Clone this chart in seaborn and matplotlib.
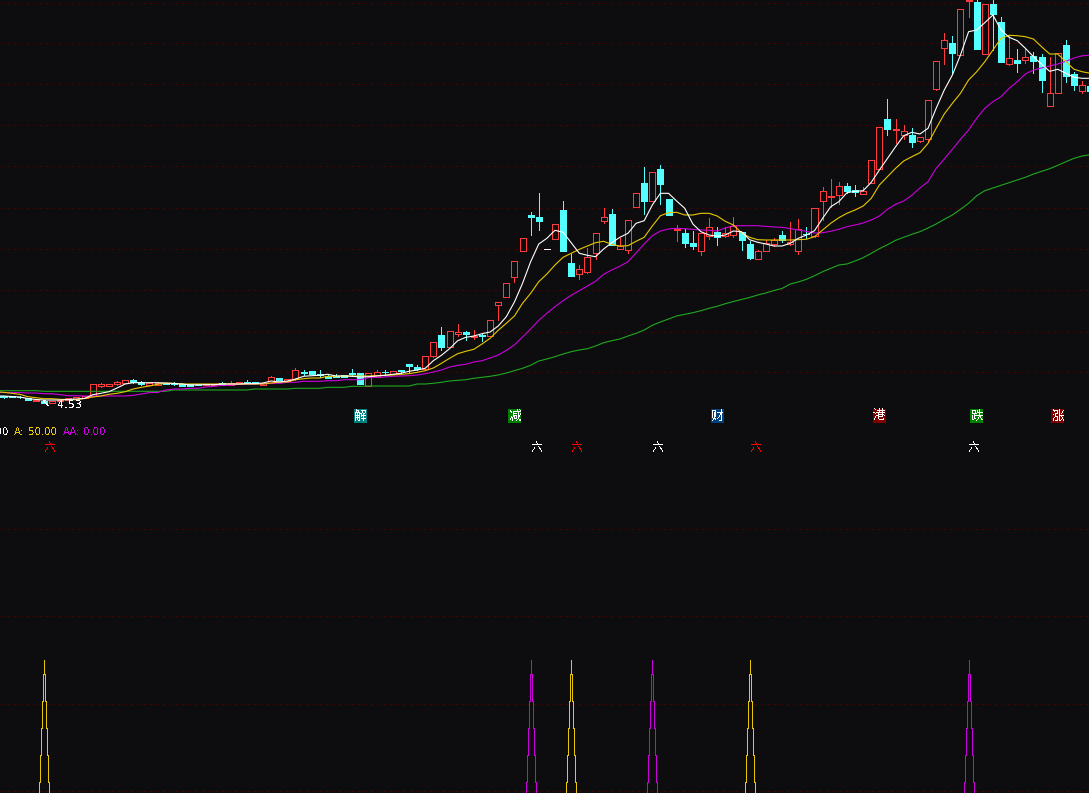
import pandas as pd
import matplotlib
matplotlib.use("Agg")
import matplotlib.pyplot as plt
import seaborn as sns

# every price below in screen rows, so the price axis runs downwards
opens = [396, 396, 396.5, 398, 401, 400.5, 403, 401, 399.5, 399,
         398, 396, 386, 385.7, 384, 382.7, 380, 382, 384.7, 384.7,
         383, 383, 384, 383.7, 384.7, 385.3, 385.3, 383, 384.7, 384,
         382, 382, 384.7, 382.7, 377.7, 381.3, 379.3, 372, 371.3, 374.3,
         376, 375.5, 375.3, 373, 373, 385.7, 376.7, 371.7, 374, 370.3,
         364.3, 367, 368.7, 355.7, 335, 346.7, 333.7, 332, 337.3, 335,
         335.7, 305.3, 296.7, 276.7, 251.3, 215, 217, 249.3, 238.7, 210,
         263, 273.7, 271.7, 253.3, 220.7, 214, 249.3, 249.7, 207.3, 183,
         200.7, 169, 199.3, 230, 233, 243, 251.3, 236, 232.3, 236,
         234.7, 232.3, 244, 258.7, 251.3, 243.7, 235, 244.3, 250.7, 233.7,
         236.3, 201.3, 196.7, 194.7, 186, 190.3, 194.3, 182.7, 168.7, 119,
         130.3, 135.3, 135, 140.7, 139.3, 88.7, 47.7, 43, 54.7, 1,
         2, 53.7, 4, 22.3, 63.7, 60, 59.7, 56, 57, 105.7,
         92.7, 45, 74, 90.7, 86]
closes = [397, 396.5, 397, 400, 399.5, 403, 401, 400, 398, 397,
          396, 384.3, 384, 384.3, 382, 380.3, 382.3, 383.7, 382.7, 383,
          384, 384, 385.7, 385.7, 385.3, 383.7, 383.7, 384.7, 382.7, 382,
          383.3, 383, 383, 377, 380, 379.3, 370.3, 373, 374.3, 375.3,
          377.7, 376.7, 377, 373.5, 384, 373.3, 372.3, 372.3, 371.3, 371.3,
          366, 368.7, 356.3, 342.3, 346.7, 331.3, 332.3, 333.7, 336, 336,
          320.3, 302.3, 283.3, 261.3, 238.3, 216.7, 220.7, 249.3, 224.3, 250.7,
          275.7, 269.3, 257.3, 233.3, 217.3, 244.7, 246, 220.3, 193.3, 200.7,
          172.3, 183.7, 214.7, 229, 242.7, 246, 233.3, 227.3, 236.7, 233.3,
          226, 240, 258, 251.3, 243.3, 240.3, 240, 241.7, 228.7, 234.3,
          208.3, 191.3, 195.7, 186.3, 190.7, 191.7, 191.3, 160.3, 127.3, 129,
          129.3, 131.3, 142, 137.3, 100.3, 61.3, 40.3, 53, 9.3, 0,
          49, 4.3, 14, 62, 58.3, 63, 57.3, 61, 80, 93.3,
          53.3, 76, 85, 85.3, 90.7]
highs = [395.5, 395.5, 396, 398, 399.5, 400.5, 401, 400, 398, 397,
         396, 384.3, 382.7, 384.3, 381, 380.3, 379, 380.5, 382.7, 383,
         383, 382, 383, 383.7, 384.7, 383.7, 383.7, 382, 381, 382,
         380, 382, 383, 376, 377.7, 379.3, 368, 370, 371.3, 370.3,
         375, 374, 375.3, 369, 373, 373.3, 370, 370, 371.3, 370.3,
         364.3, 365, 356.3, 342.3, 327.3, 331.3, 324, 331.3, 330.3, 334.3,
         320.3, 302.3, 283.3, 261.3, 238.3, 212, 193, 249.3, 224.3, 201,
         254, 265.3, 248, 233.3, 208, 209.3, 238.3, 220.3, 193.3, 167.3,
         172.3, 165, 199.3, 225.3, 229.3, 231, 233.3, 218.3, 227.3, 226.7,
         217.3, 232.3, 241.3, 250, 240, 238.3, 231, 222.3, 219.3, 227.3,
         208.3, 187.3, 179.3, 182, 183.3, 185, 186.7, 160.3, 127.3, 99,
         119.3, 125.3, 128.3, 137.3, 100.3, 61.3, 33, 36, 9.3, -3,
         0, 4.3, 0, 17.3, 36, 49.3, 48.7, 52, 54.3, 57,
         53.3, 40, 72, 81.3, 86]
lows = [398, 397, 397.5, 400, 401, 403, 403, 401, 399.5, 399,
        398, 396, 386.7, 385.7, 384.5, 382.7, 382.7, 384.7, 384.7, 384.7,
        384, 385, 386, 385.7, 385.3, 385.3, 385.3, 384.7, 384.7, 384,
        383.3, 383, 384.7, 382.7, 380, 381.3, 380, 374.5, 374.3, 376.7,
        377.7, 376.7, 377, 376, 384, 385.7, 377.3, 374, 374, 373.3,
        371.7, 370, 369.3, 357, 350, 346.7, 336, 340, 338.7, 341,
        335.7, 320, 296.7, 282, 251.3, 235, 230, 249.3, 238.7, 250.7,
        275.7, 278.7, 272.7, 259.3, 222.7, 244.7, 249.3, 252.7, 207.3, 214,
        200.7, 204, 214.7, 240.7, 246.7, 248.7, 254.7, 239.3, 244.7, 236.7,
        236.7, 250, 258.7, 258.7, 251.3, 246, 241.7, 245, 253.7, 238.3,
        237, 220, 206.7, 204, 192.7, 196, 194.3, 182.7, 168.7, 135,
        143.3, 138.7, 146.7, 141.7, 141.7, 90, 64, 73.3, 54.7, 16.7,
        49, 53.7, 50, 62, 65, 72, 62.7, 73.3, 92, 105.7,
        92.7, 82, 90, 93, 90.7]

# the averages start one bar further left, that bar is off the window
ma_white = [396, 396, 396.5, 397, 398.5, 399.5, 400, 400, 400, 399.5, 399,
            398.5, 394.7, 393.3, 391.7, 388, 384, 382.7, 382.7, 382.7, 382.7,
            383, 383.5, 384, 385, 384.7, 384.7, 384.7, 384, 384, 384,
            383.7, 383.7, 383, 381, 382, 381, 379, 376.3, 375.7, 375.3,
            374.3, 376, 376, 376.3, 377, 376.7, 376, 375.3, 374.3, 373.3,
            371.3, 370, 368.3, 360.7, 355.3, 348.7, 340.7, 337.3, 336, 333.7,
            332, 326, 316.7, 302, 283.3, 261.7, 244, 238.3, 230.3, 232.3,
            242.7, 253.3, 255.3, 256.7, 249, 242.7, 237.3, 233.3, 223.3, 220.7,
            205, 193.3, 193.3, 201, 208.3, 224, 231.7, 235, 236.3, 235,
            231, 231.7, 239.7, 242.3, 244, 246, 246, 243.3, 238.3, 235,
            230.7, 218.3, 206.7, 201.7, 192.7, 191.3, 190.7, 182.3, 170, 158.3,
            146.7, 135.7, 132.3, 134, 128.3, 108.3, 90, 75, 55, 31.7,
            30, 22.7, 15, 30, 37.3, 40.7, 48.3, 56.7, 64.3, 71.3,
            69.3, 73.3, 77.3, 78.3, 78.3]
ma_yellow = [391.7, 392.3, 393.3, 394.3, 396.7, 397.7, 398.7, 398.7, 399.3, 399.7, 399.7,
             398.3, 397, 396, 394.3, 393.3, 391.7, 389, 387.3, 386, 384.3,
             383.3, 383.3, 384, 384, 384, 384, 384, 384, 384, 384,
             384, 384, 384, 383, 382, 382, 379.7, 378.7, 378, 378,
             376.3, 376.3, 376, 376, 376, 376, 375.7, 375.3, 375, 374.3,
             373.7, 372.3, 370.7, 368, 363.3, 358.3, 353.7, 351.3, 349.3, 344,
             338.3, 330.3, 323.3, 316, 303.3, 293.3, 281.7, 274, 265, 257.3,
             253.3, 249.3, 246, 242.7, 241.3, 244.3, 246, 245.7, 241.3, 237.3,
             226, 215.7, 212.7, 212.3, 215, 215, 213.3, 213.3, 216, 221.3,
             225, 232.7, 237.3, 239.7, 240, 240, 240, 240, 239.7, 239.3,
             236.7, 230, 223.3, 217.7, 213.3, 210, 206, 198.3, 185, 176.7,
             168.3, 161, 156.7, 152.7, 143.3, 128.3, 114, 103.3, 93.3, 80,
             71.7, 61.7, 50, 38.3, 35.3, 35.7, 36.7, 39, 46.7, 54,
             54, 61.7, 69.3, 71.7, 73.3]
ma_magenta = [392.5, 392.5, 392.5, 392.5, 393, 393, 393.7, 393.7, 394.7, 395.7, 395.7,
              396, 396, 396, 396, 396, 396, 395.3, 394, 392.5, 392.5,
              390, 389, 389, 388.3, 388.3, 387, 386.3, 385.3, 385.3, 384.3,
              384, 384, 384, 383.3, 383.3, 382.3, 382.3, 381.3, 381.3, 381.3,
              380.7, 380.7, 379.7, 379.7, 379.7, 377.7, 377.3, 377, 376.3, 376,
              375.7, 375, 373.7, 372, 370, 367, 365.3, 364.3, 362, 360.7,
              358, 355, 350.3, 345, 337, 329, 320.3, 313.3, 306.7, 300.7,
              295.3, 290.7, 286, 281.3, 274.3, 270, 266.3, 261.7, 253, 244,
              235.7, 231, 229, 228.3, 228.7, 229.3, 230, 230.3, 231, 228,
              225.7, 225.7, 225.7, 225.7, 226.3, 227, 227.3, 228.7, 230, 231.3,
              233, 232.7, 231.3, 229.3, 226.7, 225, 223, 220, 216, 209.3,
              204.3, 201, 195.3, 188, 181.7, 168.3, 159, 149.3, 139.3, 130,
              118.3, 108.3, 101.7, 96.7, 88.3, 81.7, 74, 70, 68, 66,
              64, 61.3, 58, 55.7, 55.3]
ma_green = [390.7, 390.7, 390.7, 390.7, 390.7, 390.7, 391.3, 391.3, 391.3, 391.3, 391.3,
            391.3, 391.3, 391.3, 391.3, 391.3, 391.3, 391.3, 391.3, 391.3, 391.3,
            391.3, 390, 390, 390, 390, 390, 390, 390, 390, 390,
            390, 389, 389, 389, 389, 389, 388.3, 388.3, 388.3, 388.3,
            387.3, 387.3, 387.3, 386.3, 386.3, 386, 386, 386, 386, 386,
            386, 384, 384, 383.3, 382.3, 381, 380.3, 379.7, 378.3, 377.3,
            376.3, 375, 373, 370.7, 368.3, 365.3, 361, 359, 356.7, 354,
            351.7, 350, 348.7, 346, 342.7, 340.7, 339, 336, 333.3, 330,
            325.3, 322, 319, 316, 314.3, 312.7, 310.7, 308.3, 306.3, 303.7,
            301.5, 299.5, 297.5, 295, 293, 290.5, 288.5, 284, 282, 279.3,
            275.7, 271.7, 268.3, 265, 264, 261, 257.7, 253.3, 248.7, 244.7,
            240.3, 237.3, 234.3, 231.7, 228, 224, 219.3, 215, 209.3, 203.3,
            195.7, 190.7, 188, 185.3, 182.7, 180, 177.3, 174, 171.3, 168.7,
            165.3, 161.7, 158.3, 156, 154.7]

price_grid = [3, 43, 84, 125, 166, 208, 249, 290, 332, 372]
signal_grid = [40, 80, 120, 160]

badge_idx = [44, 63, 88, 108, 120, 130]
badge_text = ["解", "减", "财", "港", "跌", "涨"]
badge_colors = ["#008080", "#007f00", "#00407f", "#800000", "#007f00", "#800000"]

spike_idx = [5, 65, 70, 80, 92, 119]
spike_colors = ["#e8c800", "#cc00dd", "#e8c800", "#cc00dd", "#e8c800", "#cc00dd"]
flag_colors = ["#ff0000", "#ffffff", "#ff0000", "#ffffff", "#ff0000", "#ffffff"]
# the stairs one spike is made of: signal level and distance from the peak in bars
spike_levels = [100, 93.6, 81.3, 69, 56.7, 44.3, 39.3]
spike_offsets = [0, 0.123, 0.247, 0.37, 0.493, 0.617, 0.617]

BG = "#0d0d10"
RED = "#ff3b3b"
CYAN = "#54ffff"
ONE_PX = 0.72
W, H = 1089, 793

sns.set_theme(style="dark", rc={"figure.facecolor": BG, "axes.facecolor": BG, "text.antialiased": False})
plt.rcParams["font.family"] = ["DejaVu Sans", "Noto Sans CJK SC"]

fig = plt.figure(figsize=(W / 100, H / 100), dpi=100)
ax = fig.add_axes([0, 1 - 424 / H, 1, 424 / H])
ax2 = fig.add_axes([0, 0, 1, 1 - 424 / H])

df = pd.DataFrame({"open": opens, "close": closes, "high": highs, "low": lows})
df["i"] = df.index
df["top"] = df[["open", "close"]].min(axis=1)
df["size"] = (df["open"] - df["close"]).abs()
up = df[df["close"] < df["open"]]
down = df[df["close"] > df["open"]]
flat = df[df["close"] == df["open"]]

ax.vlines(up["i"], up["high"], up["low"], color=RED, lw=ONE_PX, antialiased=False, zorder=2)
ax.vlines(down["i"], down["high"], down["low"], color=CYAN, lw=ONE_PX, antialiased=False, zorder=2)
ax.bar(up["i"], up["size"], bottom=up["top"], width=0.74, facecolor=BG, edgecolor=RED,
       linewidth=ONE_PX, antialiased=False, zorder=3)
ax.bar(down["i"], down["size"], bottom=down["top"], width=0.74, facecolor=CYAN, edgecolor=CYAN,
       linewidth=ONE_PX, antialiased=False, zorder=3)
ax.hlines(flat["open"], flat["i"] - 0.37, flat["i"] + 0.37, color="white", lw=ONE_PX, antialiased=False, zorder=3)

# aliased strokes come out two pixels wide on a slope, so the averages stay smoothed and thin
ma_x = list(range(-1, len(opens)))
for values, color in [(ma_green, "#1fa81f"), (ma_magenta, "#cc00dd"), (ma_yellow, "#e8c800"), (ma_white, "#ffffff")]:
    sns.lineplot(x=ma_x, y=values, color=color, ax=ax, zorder=4, estimator=None)
    ax.lines[-1].set_linewidth(0.8)

for i, txt, col in zip(badge_idx, badge_text, badge_colors):
    ax.text(i, 416, txt, color="white", fontsize=9.2, family=["Noto Sans CJK SC", "DejaVu Sans"],
            ha="center", va="center", zorder=6,
            bbox=dict(facecolor=col, edgecolor="none", boxstyle="square,pad=0.02"))

ax.set_xlim(-3.5 / 8.11, (W - 3.5) / 8.11)
ax.set_ylim(424, 0)
ax.set_yticks(price_grid)
ax.axhline(423.5, color="#600000", lw=ONE_PX, antialiased=False, zorder=1)

# lower panel, each side of a spike is its own stair line, snapped so it stays one pixel wide
for i, col, flag in zip(spike_idx, spike_colors, flag_colors):
    for side in (-1, 1):
        xs = [i + side * d for d in spike_offsets]
        sns.lineplot(x=xs, y=spike_levels, color=col, estimator=None, sort=False, ax=ax2, zorder=3,
                     drawstyle="steps-pre")
        ax2.lines[-1].set_linewidth(ONE_PX)
        ax2.lines[-1].set_antialiased(False)
        ax2.lines[-1].set_snap(True)
    ax2.text(i + 0.65, 197, "六", color=flag, fontsize=8.5, family=["Noto Sans CJK SC", "DejaVu Sans"],
             ha="center", va="center")

ax2.set_xlim(-3.5 / 8.11, (W - 3.5) / 8.11)
ax2.set_ylim(39.3, 207.8)
ax2.set_yticks(signal_grid)

for a in (ax, ax2):
    a.set_xticks([])
    a.set_xlabel("")
    a.set_ylabel("")
    a.tick_params(left=False, bottom=False, labelleft=False, labelbottom=False)
    a.grid(axis="y", color="#4a0000", linestyle=(0, (2.5, 4)), lw=ONE_PX)
    a.set_axisbelow(True)
    for s in a.spines.values():
        s.set_visible(False)


def label(x, y, txt, col, ha="left", size=7.4):
    fig.text(x / W, 1 - y / H, txt, color=col, fontsize=size, ha=ha, va="center")


label(9.5, 432, "100.00", "white", ha="right")
label(14, 432, "A:", "#e8c800")
label(28, 432, "50.00", "#e8c800")
label(63, 432, "AA:", "#cc00dd")
label(83, 432, "0.00", "#cc00dd")
label(57, 405, "4.53", "white", size=8)
label(41, 405, "↖", "white", size=8)
label(983, -3, "27.14", "white")

fig.savefig("out.png", dpi=100, facecolor=BG)
